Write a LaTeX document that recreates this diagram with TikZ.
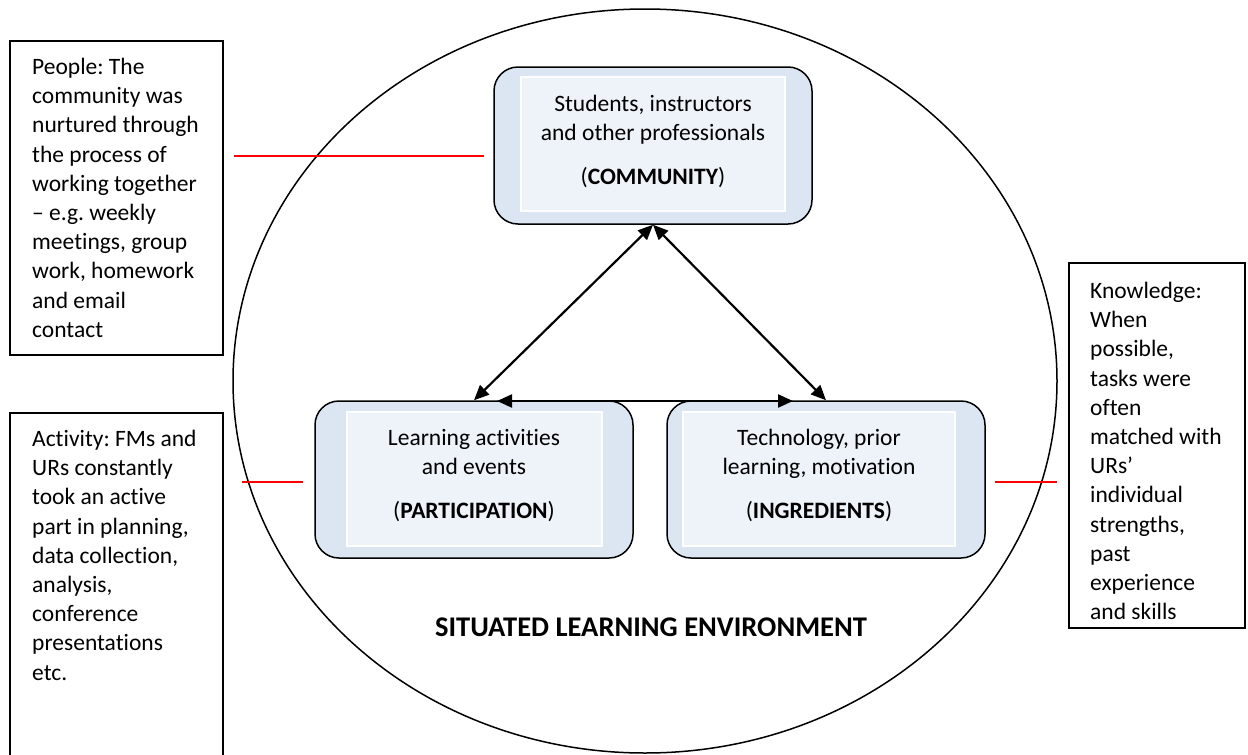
\documentclass[tikz,border=0pt]{standalone}
\usepackage{fontspec}
\setmainfont{Carlito}[Ligatures={NoCommon}]
\usetikzlibrary{arrows.meta}
\definecolor{boxout}{RGB}{220,230,242}
\definecolor{boxin}{RGB}{238,243,250}
\definecolor{redline}{RGB}{255,0,0}
\frenchspacing
\begin{document}
\begin{tikzpicture}[x=1pt,y=-1pt,
  every node/.style={font=\fontsize{23.5}{29.2}\selectfont},
  frame/.style={draw=black, line width=1.5pt},
  roundbox/.style={draw=black, line width=1.5pt, fill=boxout, rounded corners=24pt, minimum width=318pt, minimum height=157pt, inner sep=0pt},
  innerbox/.style={fill=boxin, draw=white, line width=2pt},
  boxtext/.style={align=center, inner sep=0pt, anchor=north},
  sidetext/.style={align=left, inner sep=0pt, anchor=north west},
  link/.style={line width=2.2pt, {Triangle[length=15pt,width=13pt]}-{Triangle[length=15pt,width=13pt]}},
  redlink/.style={draw=redline, line width=1.5pt}]
\useasboundingbox (0,0) rectangle (1248,755);
% environment ellipse
\draw[line width=1.5pt] (645,381) ellipse [x radius=412, y radius=372];
% side boxes
\draw[frame] (10,41) rectangle (223,355);
\draw[frame] (10,765) -- (10,413) -- (223,413) -- (223,765);
\draw[frame] (1069,263) rectangle (1245,628);
\node[sidetext] (people) at (32,58) {People: The\\community was\\nurtured through\\the process of\\working together\\– e.g. weekly\\meetings, group\\work, homework\\and email\\contact};
\node[sidetext] (activity) at (32,430) {Activity: FMs and\\URs constantly\\took an active\\part in planning,\\data collection,\\analysis,\\conference\\presentations\\etc.};
\node[sidetext] (knowledge) at (1090,282) {Knowledge:\\When\\possible,\\tasks were\\often\\matched with\\URs’\\individual\\strengths,\\past\\experience\\and skills};
% central boxes
\node[roundbox] (comm) at (653,145.5) {};
\draw[innerbox] (521,77) rectangle (785,211);
\node[boxtext] (commtxt) at (653,95) {Students, instructors\\and other professionals\\[15pt](\textbf{COMMUNITY})};
\node[roundbox] (part) at (474,479.5) {};
\draw[innerbox] (347,412) rectangle (602,546);
\node[boxtext] (parttxt) at (474,429) {Learning activities\\and events\\[15pt](\textbf{PARTICIPATION})};
\node[roundbox] (ingr) at (826,479.5) {};
\draw[innerbox] (683,412) rectangle (955,546);
\node[boxtext] (ingrtxt) at (819,429) {Technology, prior\\learning, motivation\\[15pt](\textbf{INGREDIENTS})};
% arrows
\draw[link] (comm.south) -- (part.north);
\draw[link] (comm.south) -- (ingr.north);
\coordinate (hl) at (497,401);
\coordinate (hr) at (793,401);
\draw[link] (hl) -- (hr);
% red lines
\coordinate (r1a) at (234,156); \coordinate (r1b) at (484,156);
\coordinate (r2a) at (242,482); \coordinate (r2b) at (303,482);
\coordinate (r3a) at (995,482); \coordinate (r3b) at (1057,482);
\draw[redlink] (r1a) -- (r1b);
\draw[redlink] (r2a) -- (r2b);
\draw[redlink] (r3a) -- (r3b);
% title
\node[font=\fontsize{28.5}{34}\selectfont\bfseries, anchor=base] (title) at (651,636) {SITUATED LEARNING ENVIRONMENT};
\end{tikzpicture}
\end{document}
